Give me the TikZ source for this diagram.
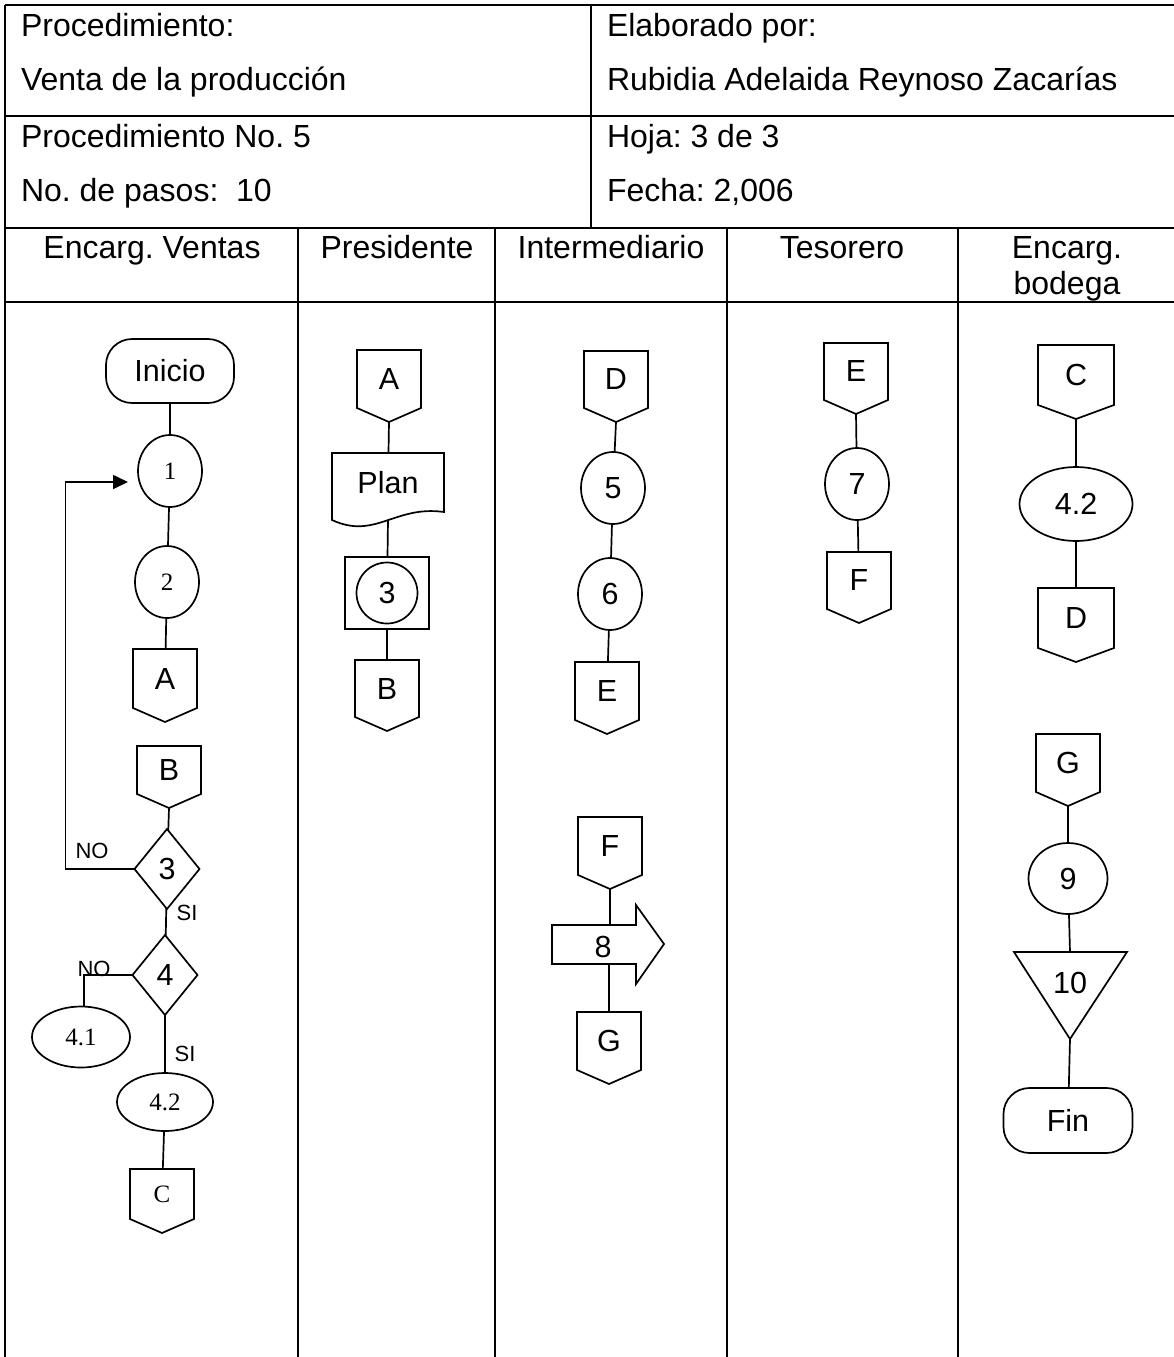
\documentclass[tikz,border=0pt]{standalone}
\usepackage{fontspec}
\setmainfont{Liberation Sans}
\newfontfamily\timesfont{Liberation Serif}
\usetikzlibrary{arrows.meta,positioning,shapes.geometric}
\frenchspacing

\begin{document}
\begin{tikzpicture}[x=1pt, y=1pt, line width=1.7pt, font=\fontsize{30.5pt}{36pt}\selectfont,
    every node/.append style={outer sep=0pt}]
    \tikzstyle{tabla}=[line width=2pt]
    \tikzstyle{cabecera}=[anchor=base west, inner sep=0pt, font=\fontsize{32pt}{38pt}\selectfont]
    \tikzstyle{carril}=[anchor=base, inner sep=0pt, font=\fontsize{32pt}{38pt}\selectfont]
    \tikzstyle{conector}=[minimum width=64pt, minimum height=58pt, inner sep=0pt,
        append after command={\pgfextra{\draw (\tikzlastnode.north west) -- (\tikzlastnode.south west)
            -- ([yshift=-14pt]\tikzlastnode.south) -- (\tikzlastnode.south east) -- (\tikzlastnode.north east) -- cycle;}}]
    \tikzstyle{conectorancho}=[conector, minimum width=76pt, minimum height=60pt]
    \tikzstyle{paso}=[draw, ellipse, minimum width=64pt, minimum height=72pt, inner sep=0pt]
    \tikzstyle{decision}=[draw, diamond, minimum width=65pt, minimum height=80pt, inner sep=0pt]
    \tikzstyle{terminal}=[draw, rounded corners=26pt, minimum width=128pt, minimum height=64pt, inner sep=0pt]
    \tikzstyle{serif}=[font={\timesfont\fontsize{25pt}{30pt}\selectfont}]
    \tikzstyle{etiq}=[inner sep=0pt, font=\fontsize{22pt}{26pt}\selectfont]
    \useasboundingbox (0,0) rectangle (1174,-1357);
    % Encabezado
    \draw[tabla] (5,-5) -- (1174,-5);
    \draw[tabla] (5,-116) -- (1174,-116);
    \draw[tabla] (5,-228) -- (1174,-228);
    \draw[tabla] (5,-302) -- (1174,-302);
    \draw[tabla] (5,-5) -- (5,-1357);
    \draw[tabla] (591,-5) -- (591,-228);
    \foreach \x in {298,495,727,958}
        \draw[tabla] (\x,-228) -- (\x,-1357);
    \node[cabecera] (proc) at (21,-36) {Procedimiento:};
    \node[cabecera] (venta) at (21,-90) {Venta de la producción};
    \node[cabecera] (procno) at (21,-147) {Procedimiento No. 5};
    \node[cabecera] (pasos) at (21,-201) {No. de pasos:\ \ 10};
    \node[cabecera] (elab) at (607,-36) {Elaborado por:};
    \node[cabecera] (autor) at (607,-90) {Rubidia Adelaida Reynoso Zacarías};
    \node[cabecera] (hoja) at (607,-147) {Hoja: 3 de 3};
    \node[cabecera] (fecha) at (607,-201) {Fecha: 2,006};
    \node[carril] (hventas) at (152,-258) {Encarg. Ventas};
    \node[carril] (hpres) at (397,-258) {Presidente};
    \node[carril] (hinter) at (611,-258) {Intermediario};
    \node[carril] (htes) at (842,-258) {Tesorero};
    \node[carril] (hbod) at (1067,-258) {Encarg.};
    \node[carril] (hbod2) at (1067,-294) {bodega};
    % Encargado de ventas
    \node[terminal, anchor=north] (inicio) at (170,-339) {Inicio};
    \node[paso, serif, below=32pt of inicio] (p1) {1};
    \node[paso, serif, below=39pt of p1, xshift=-3pt] (p2) {2};
    \node[conector, minimum height=59pt, below=31pt of p2, xshift=-2pt] (cA) {A};
    \node[conector, minimum height=48pt, below=38pt of cA, xshift=4pt] (cB) {B};
    \node[decision, below=35pt of cB, xshift=-2pt] (d3) {3};
    \node[decision, below=26pt of d3, xshift=-2pt] (d4) {4};
    \node[paso, serif, minimum width=98pt, minimum height=61pt] (p41) at (81,-1037) {4.1};
    \node[paso, serif, minimum width=96pt, minimum height=58pt, below=58pt of d4] (p42) {4.2};
    \node[conector, serif, minimum height=50pt, below=38pt of p42, xshift=-3pt] (cC) {C};
    \node[etiq] (no3) at (92,-851) {NO};
    \node[etiq] (si3) at (187,-913) {SI};
    \node[etiq] (no4) at (94,-969) {NO};
    \node[etiq] (si4) at (185,-1054) {SI};
    \draw (inicio) -- (p1);
    \draw (p1) -- (p2);
    \draw (p2) -- (cA);
    \draw ([yshift=-14pt]cB.south) -- (d3);
    \draw (d3) -- (d4);
    \draw (d4) -- (p42);
    \draw (p42) -- (cC);
    \draw (d4.west) -| ([xshift=3pt]p41.north);
    \draw[-{Triangle[length=15pt,width=14pt]}] (d3.west) -- ++(-69,0) |- ([shift={(-10,-11)}]p1.west);
    % Presidente
    \node[conector, anchor=north] (cA2) at (389,-350) {A};
    \node[below=45pt of cA2, minimum width=112pt, minimum height=59pt, inner sep=0pt, xshift=-1pt] (plan) {Plan};
    \draw (plan.south east) -- (plan.north east) -- (plan.north west) -- ([yshift=-8pt]plan.south west)
        .. controls +(43,-20) and +(-49,7) .. (plan.south east) -- cycle;
    \coordinate (planola) at ([yshift=-8pt]plan.south);
    \node[draw, minimum width=84pt, minimum height=72pt, inner sep=0pt, below=45pt of plan, xshift=-1pt] (p3caja) {};
    \node[draw, circle, minimum size=61pt, inner sep=0pt] (p3) at (p3caja) {3};
    \node[conector, minimum height=57pt, below=31pt of p3caja] (cB2) {B};
    \draw ([yshift=-14pt]cA2.south) -- (plan);
    \draw (planola) -- (p3caja);
    \draw (p3caja) -- (cB2);
    % Intermediario
    \node[conector, minimum height=57pt, anchor=north] (cD) at (616,-351) {D};
    \node[paso, below=44pt of cD, xshift=-3pt] (p5) {5};
    \node[paso, below=34pt of p5, xshift=-3pt] (p6) {6};
    \node[conector, below=32pt of p6, xshift=-3pt] (cE) {E};
    \node[conector, anchor=north] (cF) at (610,-817) {F};
    \node[inner sep=0pt] (p8) at (603,-947) {8};
    \draw ([shift={(-51,22)}]p8.center) -- ++(84,0) -- ++(0,20) -- ++(28,-39) -- ++(-28,-40) -- ++(0,20) -- ++(-84,0) -- cycle;
    \coordinate (p8arriba) at ([shift={(7,22)}]p8.center);
    \coordinate (p8abajo) at ([shift={(6,-17)}]p8.center);
    \node[conector, below=48pt of p8abajo] (cG) {G};
    \draw ([yshift=-14pt]cD.south) -- (p5);
    \draw (p5) -- (p6);
    \draw (p6) -- (cE);
    \draw ([yshift=-14pt]cF.south) -- (p8arriba);
    \draw (p8abajo) -- (cG);
    % Tesorero
    \node[conector, minimum height=57pt, anchor=north] (cE2) at (856,-343) {E};
    \node[paso, below=48pt of cE2, xshift=1pt] (p7) {7};
    \node[conector, minimum height=57pt, below=32pt of p7, xshift=2pt] (cF2) {F};
    \draw ([yshift=-14pt]cE2.south) -- (p7);
    \draw (p7) -- (cF2);
    % Encargado de bodega
    \node[conectorancho, anchor=north] (cC2) at (1076,-345) {C};
    \node[paso, minimum width=113pt, minimum height=74pt, below=62pt of cC2] (p42b) {4.2};
    \node[conectorancho, below=47pt of p42b] (cD2) {D};
    \node[conector, anchor=north] (cG2) at (1068,-734) {G};
    \node[paso, minimum width=79pt, minimum height=71pt, below=51pt of cG2] (p9) {9};
    \node[inner sep=0pt] (p10) at (1070,-983) {10};
    \draw ([shift={(-56,31)}]p10.center) -- ++(113,0) -- ++(-57,-87) -- cycle;
    \coordinate (p10arriba) at ([yshift=31pt]p10.center);
    \coordinate (p10punta) at ([yshift=-56pt]p10.center);
    \node[terminal, minimum width=129pt, minimum height=65pt, below=49pt of p10punta, xshift=-2pt] (fin) {Fin};
    \draw ([yshift=-14pt]cC2.south) -- (p42b);
    \draw (p42b) -- (cD2);
    \draw ([yshift=-14pt]cG2.south) -- (p9);
    \draw (p9) -- (p10arriba);
    \draw (p10punta) -- (fin);
\end{tikzpicture}
\end{document}
